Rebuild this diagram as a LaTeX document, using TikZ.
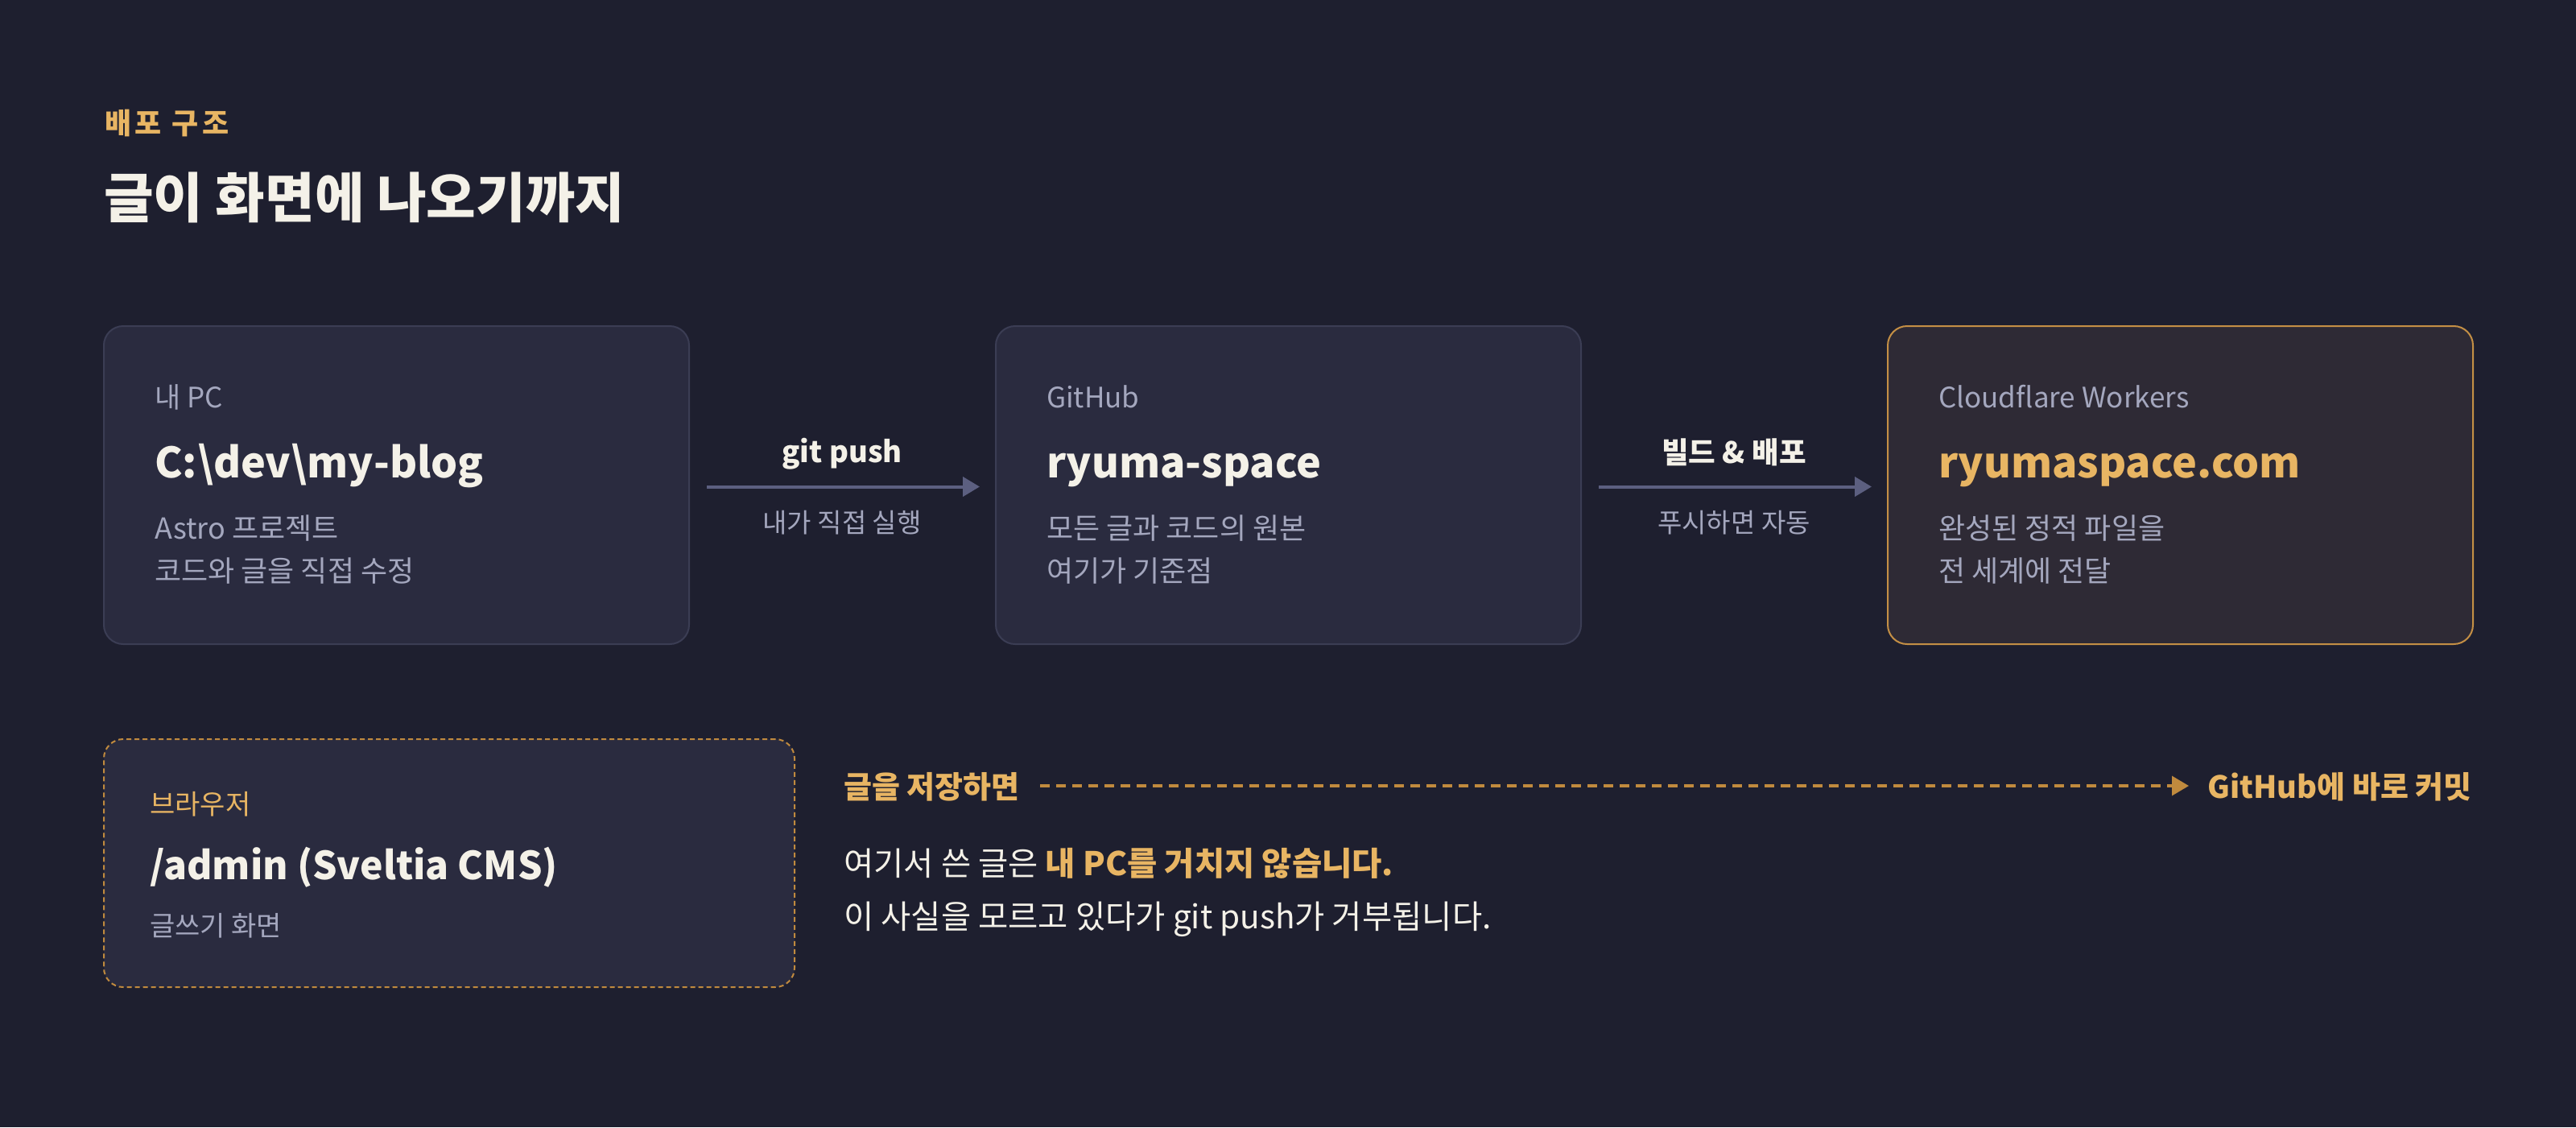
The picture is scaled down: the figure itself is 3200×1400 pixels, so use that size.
\documentclass[tikz,border=0pt]{standalone}
\usepackage{fontspec}
\setmainfont{Noto Sans CJK KR}
\usetikzlibrary{arrows.meta}
\definecolor{bg}{HTML}{1E1F2F}
\definecolor{cardfill}{HTML}{2A2B3F}
\definecolor{cardline}{HTML}{3B3D54}
\definecolor{hotfill}{HTML}{2E2A35}
\definecolor{hotline}{HTML}{C48F45}
\definecolor{accent}{HTML}{E8B563}
\definecolor{dashcol}{HTML}{C08A3E}
\definecolor{ink}{HTML}{F4F1E8}
\definecolor{muted}{HTML}{A4A7BE}
\definecolor{arrowcol}{HTML}{5C5F80}
\tikzset{
  card/.style={rectangle, rounded corners=24pt, fill=cardfill, draw=cardline, line width=2pt,
    minimum width=727pt, minimum height=395pt, anchor=north west, inner sep=0pt},
  hotcard/.style={card, fill=hotfill, draw=hotline},
  webcard/.style={card, draw=dashcol, dash pattern=on 6pt off 4pt, minimum width=858pt, minimum height=308pt},
  txt/.style={inner sep=0pt, anchor=base west},
  lbl/.style={txt, text=muted, font=\fontsize{35}{40}\selectfont},
  big/.style={txt, text=ink, font=\bfseries\fontsize{52}{60}\selectfont},
  sub/.style={txt, text=muted, font=\fontsize{36}{42}\selectfont},
  conn/.style={draw=arrowcol, line width=4pt, -{Triangle[length=21pt,width=24pt]}},
  alab/.style={inner sep=0pt, anchor=base, text=ink, font=\bfseries\fontsize{36.5}{42}\selectfont},
  asub/.style={inner sep=0pt, anchor=base, text=muted, font=\fontsize{33}{38}\selectfont},
  note/.style={txt, text=accent, font=\bfseries\fontsize{38}{44}\selectfont},
  para/.style={txt, text=ink, font=\fontsize{40.5}{46}\selectfont},
}
\begin{document}
\begin{tikzpicture}[x=1pt,y=-1pt]
\useasboundingbox (0,0) rectangle (3200,1400);
\fill[bg] (0,0) rectangle (3200,1400);

% heading
\node[txt, text=accent, font=\bfseries\fontsize{36}{42}\selectfont] (eyebrow) at (130,166)
  {배\kern4.5pt 포 \kern4.5pt 구\kern4.5pt 조};
\node[txt, text=ink, font=\bfseries\fontsize{67}{76}\selectfont] (title) at (129,270)
  {글이 화면에 나오기까지};

% cards
\node[card] (b1) at (128,404) {};
\node[card] (b2) at (1236,404) {};
\node[hotcard] (b3) at (2344,404) {};

\node[lbl] (b1l) at (192,506) {내 PC};
\node[big] (b1t) at (192,593) {C:\textbackslash dev\textbackslash my-blog};
\node[sub] (b1a) at (192,669) {Astro 프로젝트};
\node[sub] (b1b) at (192,722) {코드와 글을 직접 수정};

\node[lbl] (b2l) at (1300,506) {GitHub};
\node[big] (b2t) at (1300,593) {ryuma-space};
\node[sub] (b2a) at (1300,669) {모든 글과 코드의 원본};
\node[sub] (b2b) at (1300,722) {여기가 기준점};

\node[lbl] (b3l) at (2408,506) {Cloudflare Workers};
\node[big, text=accent] (b3t) at (2408,593) {ryumaspace.com};
\node[sub] (b3a) at (2408,669) {완성된 정적 파일을};
\node[sub] (b3b) at (2408,722) {전 세계에 전달};

% arrows
\draw[conn] ([xshift=21pt,yshift=-2pt]b1.east) -- ([xshift=-19pt,yshift=-2pt]b2.west);
\draw[conn] ([xshift=21pt,yshift=-2pt]b2.east) -- ([xshift=-19pt,yshift=-2pt]b3.west);
\node[alab] (a1t) at (1046,574) {git push};
\node[asub] (a1s) at (1046,661) {내가 직접 실행};
\node[alab] (a2t) at (2154,575) {빌드 \& 배포};
\node[asub] (a2s) at (2154,661) {푸시하면 자동};

% browser card
\node[webcard] (b4) at (128,917) {};
\node[lbl, text=accent, font=\fontsize{34}{40}\selectfont] (b4l) at (186,1011) {브라우저};
\node[big, font=\bfseries\fontsize{48}{56}\selectfont] (b4t) at (186,1092) {/admin (Sveltia CMS)};
\node[lbl, font=\fontsize{34}{40}\selectfont] (b4s) at (186,1162) {글쓰기 화면};

% direct commit line
\node[note] (s1) at (1048,991) {글을 저장하면};
\node[note, anchor=base east] (s2) at (3071,991) {GitHub에 바로 커밋};
\coordinate (dl) at (1292,976);
\coordinate (dr) at (2719,976);
\draw[draw=dashcol, line width=3.3pt, dash pattern=on 12pt off 8pt,
      -{Triangle[length=21pt,width=24pt]}] (dl) -- (dr);

\node[para] (p1) at (1048,1087)
  {여기서 쓴 글은 {\color{accent}\bfseries 내 PC를 거치지 않습니다.}};
\node[para] (p2) at (1048,1153)
  {이 사실을 모르고 있다가 git push가 거부됩니다.};
\end{tikzpicture}
\end{document}
